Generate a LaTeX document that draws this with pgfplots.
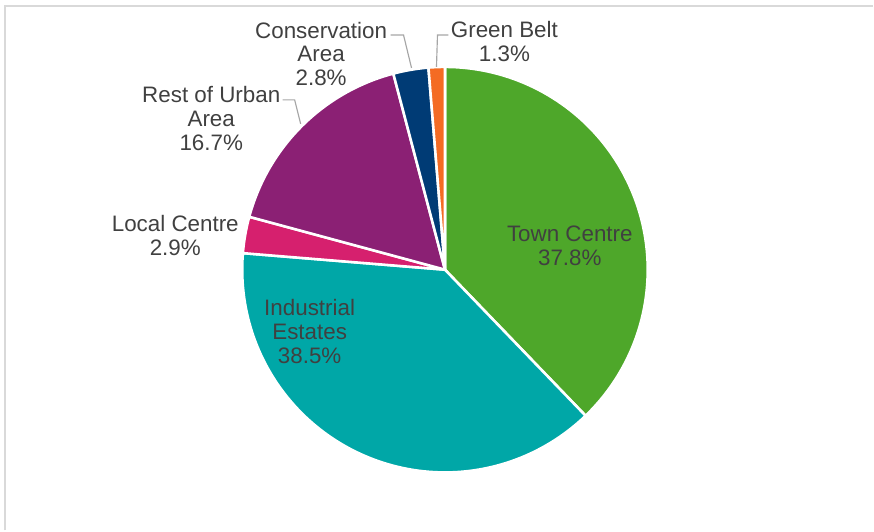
\documentclass[border=0pt]{standalone}
\usepackage{pgfplots}
\pgfplotsset{compat=1.18}
\usepackage{fontspec}
\setmainfont{Liberation Sans}
\definecolor{cTown}{HTML}{4EA72A}
\definecolor{cInd}{HTML}{00A7A7}
\definecolor{cLocal}{HTML}{D6206E}
\definecolor{cRest}{HTML}{8B2074}
\definecolor{cCons}{HTML}{003B75}
\definecolor{cBelt}{HTML}{F46B23}
\definecolor{txt}{HTML}{404040}
\definecolor{frame}{HTML}{D9D9D9}
\definecolor{leader}{HTML}{A6A6A6}
\tikzset{lbl/.style={font=\fontsize{8.75}{9.35}\selectfont, text=txt, align=center, inner sep=0pt}}
% shares in percent, clockwise from 12 o'clock
\def\cum{0}
\newcommand\slice[2]{%
  \pgfmathsetmacro\startang{90-3.6*\cum}%
  \pgfmathsetmacro\endang{90-3.6*(\cum+#1)}%
  \edef\doslice{\noexpand\addplot[fill=#2, draw=white, line width=1pt, line join=round, domain=\endang:\startang, samples=90, variable=\noexpand\t] ({445.5+203*cos(\noexpand\t)},{270-203*sin(\noexpand\t)}) -- (axis cs:445.5,270) -- cycle;}%
  \doslice
  \pgfmathsetmacro\newcum{\cum+#1}\xdef\cum{\newcum}%
}
\begin{document}
\begin{tikzpicture}
\begin{axis}[
  scale only axis, width=12cm, height=7.2906cm,
  xmin=0, xmax=874, ymin=0, ymax=531, y dir=reverse,
  hide axis, clip=false,
]
\path (axis cs:0,0) rectangle (axis cs:874,531);
\draw[frame, line width=0.8pt] (axis cs:5,531) -- (axis cs:5,6) -- (axis cs:874,6);
\slice{37.8}{cTown}
\slice{38.5}{cInd}
\slice{2.9}{cLocal}
\slice{16.7}{cRest}
\slice{2.8}{cCons}
\slice{1.3}{cBelt}
\node[lbl] at (axis cs:570.5,246.5) {Town Centre\\37.8\%};
\node[lbl] at (axis cs:310,331.5) {Industrial\\Estates\\38.5\%};
\node[lbl] at (axis cs:175.5,235.5) {Local Centre\\2.9\%};
\node[lbl] at (axis cs:211.5,119) {Rest of Urban\\Area\\16.7\%};
\node[lbl] at (axis cs:321.5,54) {Conservation\\Area\\2.8\%};
\node[lbl] at (axis cs:505,42) {Green Belt\\1.3\%};
\draw[leader, line width=0.45pt] (axis cs:283,100) -- (axis cs:295,100) -- (axis cs:301,124);
\draw[leader, line width=0.45pt] (axis cs:391,35) -- (axis cs:404,35) -- (axis cs:412,68);
\draw[leader, line width=0.45pt] (axis cs:449,35) -- (axis cs:438,35) -- (axis cs:437,67);
\end{axis}
\end{tikzpicture}
\end{document}
